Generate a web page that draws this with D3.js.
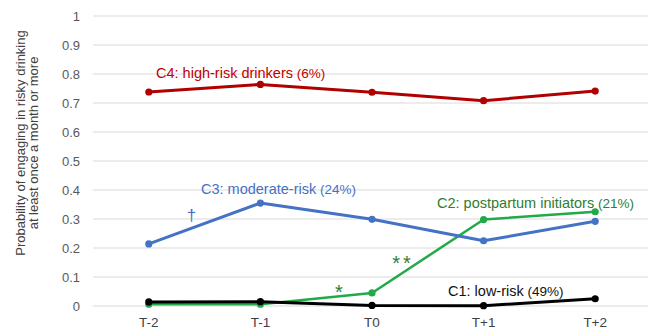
<!DOCTYPE html>
<html>
<head>
<meta charset="utf-8">
<script src="https://cdn.jsdelivr.net/npm/d3@7"></script>
<style>
  html, body { margin: 0; padding: 0; background: #fff; }
  svg { display: block; font-family: "Liberation Sans", Arial, sans-serif; }
</style>
</head>
<body>
<svg id="chart" width="648" height="330"></svg>
<script>
const categories = ["T-2", "T-1", "T0", "T+1", "T+2"];
const yTicks = [0, 0.1, 0.2, 0.3, 0.4, 0.5, 0.6, 0.7, 0.8, 0.9, 1];
const c4High = [0.738, 0.764, 0.737, 0.708, 0.741];
const c3Moderate = [0.214, 0.355, 0.299, 0.225, 0.292];
const c2Postpartum = [0.006, 0.006, 0.045, 0.298, 0.325];
const c1Low = [0.014, 0.015, 0.002, 0.001, 0.025];

const seriesList = [
  { name: "C1", values: c1Low, color: "#000000", width: 3 },
  { name: "C2", values: c2Postpartum, color: "#22A94A", width: 2.5 },
  { name: "C3", values: c3Moderate, color: "#4472C4", width: 3 },
  { name: "C4", values: c4High, color: "#B00000", width: 3 }
];
const drawOrder = [seriesList[1], seriesList[0], seriesList[2], seriesList[3]];

const svg = d3.select("#chart");
const x = d3.scalePoint().domain(categories).range([93, 651]).padding(0.5);
const y = d3.scaleLinear().domain([0, 1]).range([306, 16]);

svg.append("g").selectAll("line").data(yTicks).join("line")
  .attr("x1", 93).attr("x2", 648)
  .attr("y1", d => y(d)).attr("y2", d => y(d))
  .attr("stroke", "#d9d9d9").attr("stroke-width", 1);

svg.append("g").selectAll("text").data(yTicks).join("text")
  .attr("x", 80).attr("y", d => y(d)).attr("dy", "0.35em")
  .attr("text-anchor", "end").attr("font-size", 13).attr("fill", "#595959")
  .text(d => d3.format("~g")(d));

svg.append("g").selectAll("text").data(categories).join("text")
  .attr("x", d => x(d)).attr("y", 326.5)
  .attr("text-anchor", "middle").attr("font-size", 13.5).attr("fill", "#404040")
  .text(d => d);

const yt = svg.append("text")
  .attr("transform", "translate(26.5,143) rotate(-90)")
  .attr("text-anchor", "middle").attr("font-size", 13).attr("fill", "#404040");
yt.append("tspan").attr("x", 0).attr("dy", "-0.15em").text("Probability of engaging in risky drinking");
yt.append("tspan").attr("x", 0).attr("dy", "1.0em").text("at least once a month or more");

const line = d3.line().x((d, i) => x(categories[i])).y(d => y(d));

drawOrder.forEach(s => {
  const g = svg.append("g");
  g.append("path").datum(s.values)
    .attr("d", line).attr("fill", "none")
    .attr("stroke", s.color).attr("stroke-width", s.width)
    .attr("stroke-linejoin", "round");
  g.selectAll("circle").data(s.values).join("circle")
    .attr("cx", (d, i) => x(categories[i])).attr("cy", d => y(d))
    .attr("r", 3.6).attr("fill", s.color);
});

function label(xp, yp, main, pct, color) {
  const t = svg.append("text").attr("x", xp).attr("y", yp)
    .attr("fill", color).attr("font-size", 14.5);
  t.append("tspan").text(main);
  t.append("tspan").attr("font-size", 13.5).text(" " + pct);
}
label(156, 78, "C4: high-risk drinkers", "(6%)", "#C00000");
label(201, 193.5, "C3: moderate-risk", "(24%)", "#4472C4");
label(437, 208, "C2: postpartum initiators", "(21%)", "#2E7D32");
label(448, 296, "C1: low-risk", "(49%)", "#111111");

svg.append("text").attr("x", 191.5).attr("y", 221).attr("text-anchor", "middle")
  .attr("font-size", 17).attr("fill", "#4472C4").text("\u2020");
svg.append("text").attr("x", 339).attr("y", 298.5).attr("text-anchor", "middle")
  .attr("font-size", 20).attr("fill", "#2E7D32").text("*");
svg.append("text").attr("x", 403).attr("y", 270).attr("text-anchor", "middle")
  .attr("font-size", 20).attr("letter-spacing", 3).attr("fill", "#2E7D32").text("**");
</script>
</body>
</html>
